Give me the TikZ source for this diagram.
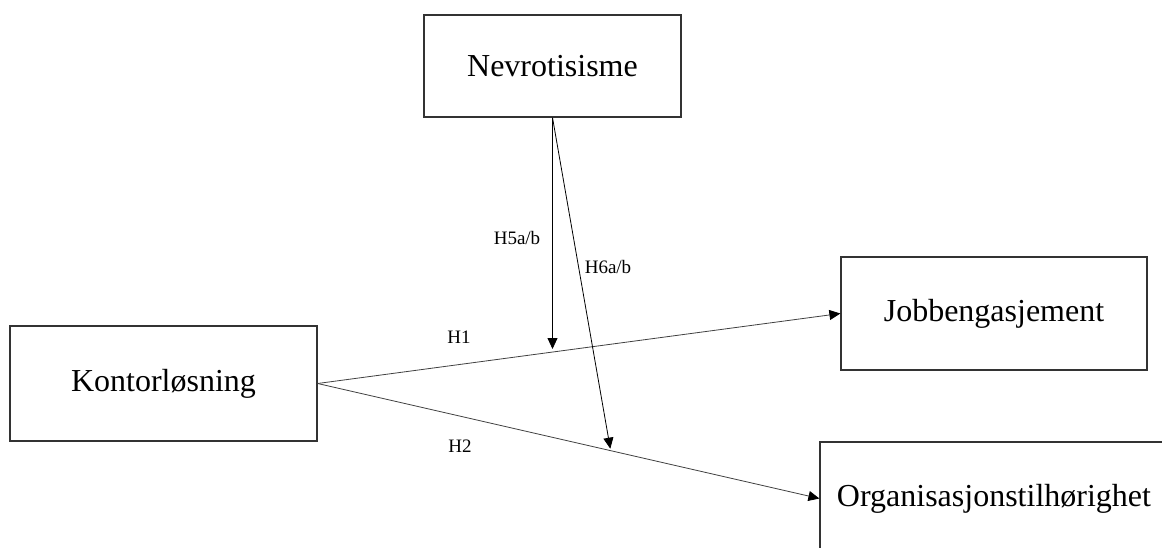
\documentclass[tikz,border=0pt]{standalone}
\usepackage{fontspec}
\setmainfont{Liberation Serif}
\usepackage{tikz}
\usetikzlibrary{positioning,arrows.meta,calc}

\begin{document}
\begin{tikzpicture}[x=1pt,y=-1pt,
  box/.style={draw=black!80,line width=1.2pt,minimum height=113pt,inner sep=0pt,font=\fontsize{32}{38}\selectfont},
  hyp/.style={font=\fontsize{19}{22}\selectfont,inner sep=1pt},
  link/.style={draw=black!75,line width=0.9pt},
  arr/.style={-{Triangle[length=11pt,width=10pt,color=black]},line width=0.8pt}]
\useasboundingbox (0,0) rectangle (1162,548);
\clip (0,0) rectangle (1162,548);
\node[box,minimum width=257pt,minimum height=102pt] (nevro) at (552.5,66) {Nevrotisisme};
\node[box,minimum width=307pt,minimum height=115pt] (kontor) at (163.5,383.5) {Kontorløsning};
\node[box,minimum width=306pt] (jobb) at (994,313.5) {Jobbengasjement};
\node[box,minimum width=348pt] (org) at (994,498.5) {Organisasjonstilhørighet};
% hovedeffekter
\draw[link,arr] (kontor.east) -- (jobb.west);
\draw[link,arr] (kontor.east) -- (org.west);
\coordinate (m1) at ($(kontor.east)!0.45!(jobb.west)$);
\coordinate (m2) at ($(kontor.east)!0.584!(org.west)$);
% moderering
\draw[arr,shorten >=3pt] (nevro.south) -- (nevro.south |- m1);
\draw[arr,shorten >=2pt] (nevro.south) -- (m2);
\node[hyp] (h1) at (459,337) {H1};
\node[hyp] (h2) at (460,446) {H2};
\node[hyp] (h5) at (517,238) {H5a/b};
\node[hyp] (h6) at (608,267) {H6a/b};
\end{tikzpicture}
\end{document}
